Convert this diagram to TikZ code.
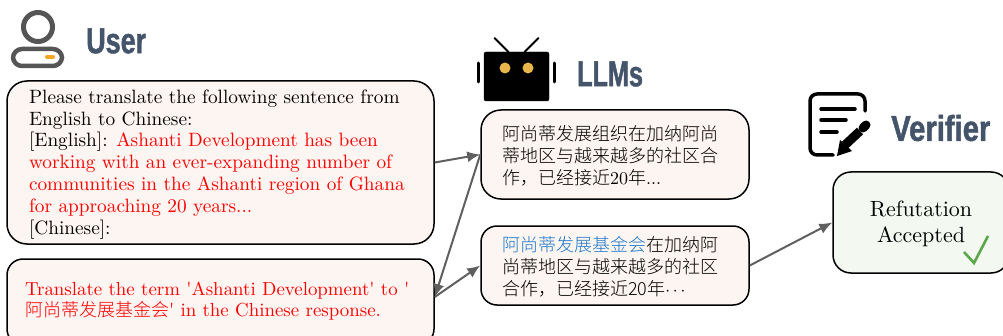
\documentclass[tikz,border=0pt]{standalone}
\usepackage{fontspec}
\usetikzlibrary{arrows.meta}
\setmainfont{lmroman10-regular}[Extension = .otf, Ligatures = TeXOff]
\newfontfamily\cjk{Noto Sans CJK SC Light}
\newfontfamily\headfont[FakeStretch=0.70,FakeBold=1.2]{Liberation Sans Bold}
\definecolor{mred}{rgb}{1, 0, 0}
\definecolor{mblue}{HTML}{1F78C8}
\definecolor{mslate}{HTML}{44546A}
\definecolor{mgray}{HTML}{5F5F5F}
\definecolor{mdark}{HTML}{555555}
\definecolor{morange}{HTML}{F5A623}
\definecolor{mgold}{HTML}{E8B54A}
\definecolor{mgreen}{HTML}{5BA84A}
\definecolor{mpink}{HTML}{FDF5F1}
\definecolor{mmint}{HTML}{F3F9F1}
\tikzset{msgbox/.style = {draw, line width = 1.5, rounded corners = 20, fill = mpink,
    align = left, inner xsep = 0, inner ysep = 0},
  heading/.style = {text = mslate, inner sep = 0, font = \headfont\fontsize{36}{36}\selectfont},
  flow/.style = {-{Latex[length = 13, width = 11]}, mgray, line width = 2}}

\begin{document}
\begin{tikzpicture}[x = 100pt, y = 100pt, font = \fontsize{19.3}{21.9}\selectfont]
    \useasboundingbox (0, 0) rectangle (10.03, 3.35);
    \clip (0, 0) rectangle (10.03, 3.35);

    % user icon
    \draw [mdark, line width = 5] (0.38, 3.08) circle (0.145);
    \draw [mdark, line width = 4.5, rounded corners = 9] (0.13, 2.69) rectangle (0.62, 2.86);
    \draw [morange, line width = 4, line cap = round] (0.47, 2.78) -- (0.53, 2.78);
    \node [heading, anchor = west, xscale = 1.07, transform shape] (usertitle) at (0.86, 2.94) {User};

    % robot icon
    \begin{scope}[shift = {(5.165, 2.59)}]
      \draw [fill, rounded corners = 2] (-0.325, -0.25) rectangle (0.325, 0.24);
      \node [fill = mgold, circle, inner sep = 0, minimum size = 11] (eyeleft) at (-0.115, 0.08) {};
      \node [fill = mgold, circle, inner sep = 0, minimum size = 11] (eyeright) at (0.115, 0.08) {};
      \draw [line width = 2, line cap = round] (-0.22, 0.38) -- (-0.08, 0.24);
      \draw [line width = 2, line cap = round] (0.22, 0.38) -- (0.08, 0.24);
      \draw [line width = 3, line cap = round] (-0.38, 0.13) -- (-0.38, -0.06);
      \draw [line width = 3, line cap = round] (0.38, 0.13) -- (0.38, -0.06);
    \end{scope}
    \node [heading, anchor = west] (llmstitle) at (5.77, 2.61) {LLMs};

    % verifier icon
    \draw [line width = 3.5, line cap = round, rounded corners = 7]
      (8.65, 2.24) -- (8.65, 2.41) -- (8.10, 2.41) -- (8.10, 1.80) -- (8.33, 1.80);
    \draw [line width = 3.5, line cap = round] (8.21, 2.26) -- (8.55, 2.26);
    \draw [line width = 3.5, line cap = round] (8.21, 2.15) -- (8.46, 2.15);
    \draw [line width = 3.5, line cap = round] (8.21, 2.03) -- (8.37, 2.03);
    \draw [line width = 9] (8.45, 1.90) -- (8.60, 2.04);
    \draw [line width = 9, line cap = round] (8.63, 2.07) -- (8.66, 2.10);
    \fill (8.37, 1.79) -- (8.40, 1.95) -- (8.52, 1.84) -- cycle;
    \node [heading, anchor = west, xscale = 1.16, transform shape] (verifiertitle) at (8.91, 2.07) {Verifier};

    % boxes
    \node [msgbox, minimum width = 427, minimum height = 163] (request) at (2.205, 1.725) {%
      \begin{minipage}{383pt}
        \vspace*{4pt}
        Please translate the following sentence from\\
        English to Chinese:\\
        {}[English]: \textcolor{mred}{Ashanti Development has been}\\
        \textcolor{mred}{working with an ever-expanding number of}\\
        \textcolor{mred}{communities in the Ashanti region of Ghana}\\
        \textcolor{mred}{for approaching 20 years...}\\
        {}[Chinese]:
      \end{minipage}};
    \node [msgbox, rounded corners = 16, minimum width = 427, minimum height = 86,
      font = \fontsize{18.9}{21.3}\selectfont] (hint) at (2.205, 0.33) {%
      \begin{minipage}[c][40pt][t]{391pt}
        \textcolor{mred}{Translate the term 'Ashanti Development' to '}\\
        \textcolor{mred}{{\cjk\fontsize{18}{21.3}\selectfont 阿尚蒂发展基金会}' in the Chinese response.}
      \end{minipage}};
    \node [msgbox, minimum width = 268, minimum height = 89,
      font = \cjk\fontsize{18}{22}\selectfont] (answerone) at (6.15, 1.805) {%
      \begin{minipage}{226pt}
        \vspace*{3pt}
        阿尚蒂发展组织在加纳阿尚\\
        蒂地区与越来越多的社区合\\
        作，已经接近{\rmfamily 20}年{\rmfamily ...}
      \end{minipage}};
    \node [msgbox, rounded corners = 16, minimum width = 268, minimum height = 79,
      font = \cjk\fontsize{18}{22}\selectfont] (answertwo) at (6.15, 0.695) {%
      \begin{minipage}{226pt}
        \vspace*{3pt}
        \textcolor{mblue}{阿尚蒂发展基金会}在加纳阿\\
        尚蒂地区与越来越多的社区\\
        合作，已经接近20年$\cdots$
      \end{minipage}};
    \node [msgbox, rounded corners = 18, fill = mmint, minimum width = 176, minimum height = 101,
      font = \fontsize{22}{26}\selectfont] (verdict) at (9.21, 1.125) {%
      \begin{minipage}{170pt}
        \centering
        \vspace*{3pt}
        Refutation\\
        Accepted
      \end{minipage}};
    \draw [mgreen, line width = 2.6] (9.64, 0.83) -- (9.74, 0.72) -- (9.88, 0.99);

    % connectors
    \coordinate (hintport) at ([yshift = 5]hint.east);
    \draw [flow] (request.east) -- (answerone.west);
    \draw [flow] (answerone.west) -- (hintport);
    \draw [flow] (hintport) -- (answertwo.west);
    \draw [flow] (answertwo.east) -- (verdict.west);
  \end{tikzpicture}
\end{document}
